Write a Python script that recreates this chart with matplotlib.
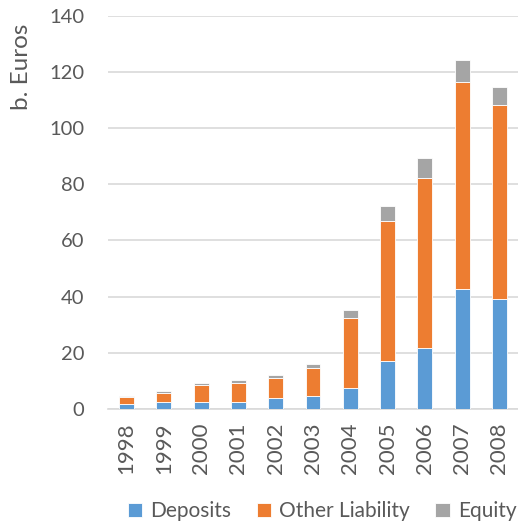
import matplotlib.pyplot as plt
import numpy as np

plt.rcParams['font.family'] = ['Lato', 'DejaVu Sans']

# data (billion euros)
years = ["1998", "1999", "2000", "2001", "2002", "2003",
         "2004", "2005", "2006", "2007", "2008"]
deposits = [1.9, 2.6, 2.6, 2.6, 4.0, 4.6, 7.6, 17.1, 21.8, 42.8, 39.1]
other_liability = [2.4, 3.1, 5.9, 6.7, 7.1, 10.1, 24.7, 49.7, 60.6, 73.6, 69.1]
equity = [0.3, 0.7, 0.7, 0.9, 0.9, 1.2, 3.0, 5.3, 6.8, 7.7, 6.3]

x = np.arange(len(years))
dep = np.array(deposits)
oth = np.array(other_liability)

fig = plt.figure(figsize=(5.18, 5.25), dpi=100)
ax = fig.add_axes([0.2085, 0.221, 0.7915, 0.749])

w = 0.4
ax.bar(x, dep, w, color="#5B9BD5", edgecolor="white", linewidth=0.6,
       label="Deposits", zorder=3)
ax.bar(x, oth, w, bottom=dep, color="#ED7D31", edgecolor="white",
       linewidth=0.6, label="Other Liability", zorder=3)
ax.bar(x, equity, w, bottom=dep + oth, color="#A5A5A5", edgecolor="white",
       linewidth=0.6, label="Equity", zorder=3)

ax.set_xlim(-0.5, len(years) - 0.5)
ax.set_ylim(0, 140)
ax.set_yticks(np.arange(0, 141, 20))
ax.set_xticks(x)
ax.set_xticklabels(years, rotation=90)
ax.tick_params(axis="both", length=0, colors="#595959")
ax.tick_params(axis="y", pad=17, labelsize=14.5)
ax.tick_params(axis="x", pad=10, labelsize=16)
ax.grid(axis="y", color="#D9D9D9", linewidth=1.2, zorder=0)
for s in ["top", "right", "left"]:
    ax.spines[s].set_visible(False)
ax.spines["bottom"].set_color("#D9D9D9")
ax.spines["bottom"].set_linewidth(1.2)

fig.text(0.042, 0.872, "b. Euros", rotation=90, ha="center", va="center",
         fontsize=17.5, color="#595959")

fig.legend(loc="center", bbox_to_anchor=(0.622, 0.026), ncol=3, frameon=False,
           fontsize=15, labelcolor="#595959", handlelength=0.7,
           handleheight=0.7, handletextpad=0.4, columnspacing=1.2)

plt.savefig("out.png", dpi=100)
